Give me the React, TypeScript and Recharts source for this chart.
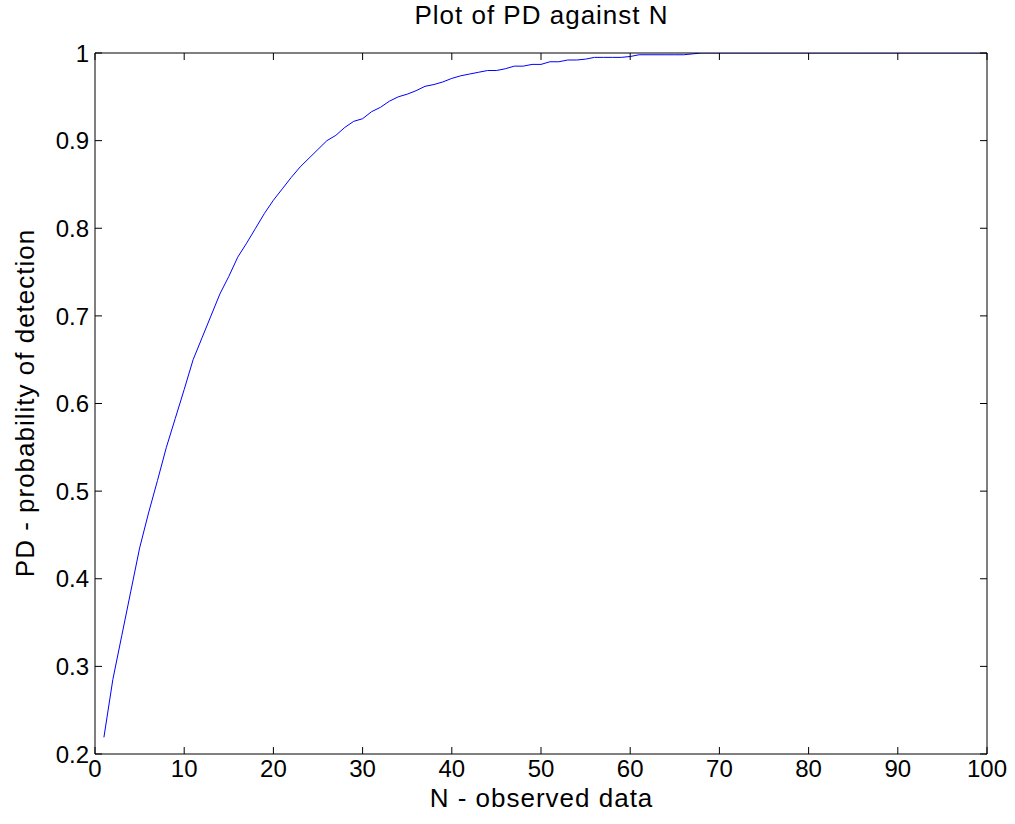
import { LineChart, Line, XAxis, YAxis } from "recharts";

const PD_VALUES = [
  0.219, 0.285, 0.335, 0.385, 0.435, 0.475, 0.512, 0.55, 0.583, 0.616,
  0.65, 0.675, 0.7, 0.725, 0.745, 0.767, 0.783, 0.8, 0.817, 0.832,
  0.845, 0.858, 0.87, 0.88, 0.89, 0.9, 0.906, 0.915, 0.922, 0.925,
  0.933, 0.938, 0.945, 0.95, 0.953, 0.957, 0.962, 0.964, 0.967, 0.971,
  0.974, 0.976, 0.978, 0.98, 0.98, 0.982, 0.985, 0.985, 0.987, 0.987,
  0.99, 0.99, 0.992, 0.992, 0.993, 0.995, 0.995, 0.995, 0.995, 0.996,
  0.998, 0.998, 0.998, 0.998, 0.998, 0.998, 0.999, 1, 1, 1,
  1, 1, 1, 1, 1, 1, 1, 1, 1, 1,
  1, 1, 1, 1, 1, 1, 1, 1, 1, 1,
  1, 1, 1, 1, 1, 1, 1, 1, 1, 1,
];

const X_TICKS = [0, 10, 20, 30, 40, 50, 60, 70, 80, 90, 100];
const Y_TICKS = [0.2, 0.3, 0.4, 0.5, 0.6, 0.7, 0.8, 0.9, 1];

const data = PD_VALUES.map((pd, i) => ({ n: i + 1, pd }));

const FONT = "'Liberation Sans', Arial, Helvetica, sans-serif";
const TICK_LEN = 7;

const labelStyle = { position: "absolute" as const, fontSize: 26, letterSpacing: 1, color: "#000" };

const BottomTick = (props: any) => {
  const { x, y, payload } = props;
  return (
    <g>
      <line x1={x} y1={y} x2={x} y2={y - TICK_LEN} stroke="#000" />
      <text x={x} y={y + 5} dy="0.75em" textAnchor="middle" fontSize={24} fontFamily={FONT} fill="#000">
        {payload.value}
      </text>
    </g>
  );
};

const LeftTick = (props: any) => {
  const { x, y, payload } = props;
  return (
    <g>
      <line x1={x} y1={y} x2={x + TICK_LEN} y2={y} stroke="#000" />
      <text x={x - 6} y={y} dy="0.36em" textAnchor="end" fontSize={24} fontFamily={FONT} fill="#000">
        {String(payload.value)}
      </text>
    </g>
  );
};

const TopTick = (props: any) => {
  const { x, y } = props;
  return <line x1={x} y1={y} x2={x} y2={y + TICK_LEN} stroke="#000" />;
};

const RightTick = (props: any) => {
  const { x, y } = props;
  return <line x1={x} y1={y} x2={x - TICK_LEN} y2={y} stroke="#000" />;
};

export default function App() {
  return (
    <div style={{ position: "absolute", left: 0, top: 0, width: 1015, height: 824, background: "#fff", fontFamily: FONT }}>
      <div style={{ ...labelStyle, left: 95, width: 893, top: 0, textAlign: "center" }}>Plot of PD against N</div>
      <div style={{ ...labelStyle, left: 95, width: 893, top: 783, textAlign: "center" }}>N - observed data</div>
      <div
        style={{
          ...labelStyle,
          left: 25,
          top: 403,
          transform: "translate(-50%, -50%) rotate(-90deg)",
          whiteSpace: "nowrap",
        }}
      >
        PD - probability of detection
      </div>
      <LineChart width={1015} height={824} data={data} margin={{ top: 52, right: 27, bottom: 30, left: 35 }}>
        <XAxis
          dataKey="n"
          type="number"
          domain={[0, 100]}
          ticks={X_TICKS}
          tickSize={0}
          tickMargin={0}
          height={40}
          stroke="#000"
          tick={<BottomTick />}
          allowDataOverflow
        />
        <XAxis
          xAxisId="top"
          orientation="top"
          dataKey="n"
          type="number"
          domain={[0, 100]}
          ticks={X_TICKS}
          tickSize={0}
          tickMargin={0}
          height={1}
          stroke="#000"
          tick={<TopTick />}
          allowDataOverflow
        />
        <YAxis
          type="number"
          domain={[0.2, 1]}
          ticks={Y_TICKS}
          tickSize={0}
          tickMargin={0}
          width={60}
          stroke="#000"
          tick={<LeftTick />}
          allowDataOverflow
        />
        <YAxis
          yAxisId="right"
          orientation="right"
          type="number"
          domain={[0.2, 1]}
          ticks={Y_TICKS}
          tickSize={0}
          tickMargin={0}
          width={1}
          stroke="#000"
          tick={<RightTick />}
          allowDataOverflow
        />
        {/* invisible twin so the top/right frame axes get drawn */}
        <Line xAxisId="top" yAxisId="right" type="linear" dataKey="pd" stroke="none" dot={false} isAnimationActive={false} />
        <Line type="linear" dataKey="pd" stroke="#0000ff" strokeWidth={1} dot={false} isAnimationActive={false} />
      </LineChart>
    </div>
  );
}
